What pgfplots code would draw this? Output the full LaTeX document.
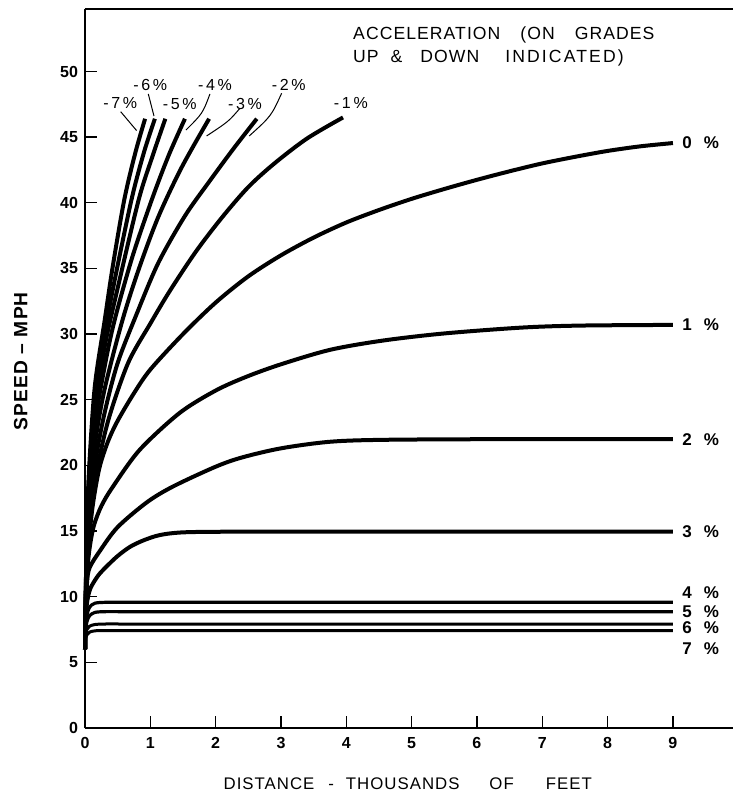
\documentclass[border=0pt]{standalone}
\usepackage{fontspec}
\setmainfont{Liberation Sans}
\newfontfamily\spaced[LetterSpace=6]{Liberation Sans}
\newfontfamily\spacedw[LetterSpace=12]{Liberation Sans}
\usepackage{pgfplots}
\pgfplotsset{compat=1.18}
\begin{document}
\begin{tikzpicture}
\begin{axis}[
  scale only axis,
  width=324pt, height=359.5pt,
  xmin=0, xmax=9.92, ymin=0, ymax=54.76,
  axis x line*=box, axis y line*=left,
  xtick={0,1,...,9}, ytick={0,5,...,50},
  xtick pos=bottom, ytick pos=left,
  tick align=inside,
  major tick length=6pt,
  axis line style={line width=0.6pt},
  every tick/.style={black, line width=0.7pt},
  /pgf/number format/assume math mode=true,
  ticklabel style={font=\fontsize{8}{9}\selectfont\bfseries},
  xticklabel style={yshift=-1pt},
  xlabel={\spaced\fontsize{8.4}{10}\selectfont DISTANCE\hspace{7pt}-\hspace{6pt}THOUSANDS\hspace{15pt}OF\hspace{16pt}FEET},
  ylabel={\spaced\fontsize{9.6}{11}\selectfont\bfseries SPEED – MPH},
  every axis x label/.style={at={(axis description cs:0.498,-0.078)},anchor=center},
  every axis y label/.style={at={(axis description cs:-0.099,0.51)},rotate=90,anchor=center},
  clip=false,
]
% downgrades
\addplot[black, line width=2pt, smooth] coordinates {(0,6) (0.01,10) (0.03,15) (0.06,19.5) (0.15,26) (0.3,31) (0.42,35) (0.6,40.2) (0.77,43.8) (0.92,46.4)};
\addplot[black, line width=2pt, smooth] coordinates {(0,6) (0.01,10) (0.03,14.5) (0.06,18.8) (0.15,25) (0.3,30) (0.45,34) (0.71,40.2) (0.9,43.8) (1.07,46.4)};
\addplot[black, line width=2pt, smooth] coordinates {(0,6) (0.01,9.8) (0.03,14) (0.06,18) (0.15,24) (0.3,29) (0.5,33.5) (0.82,40.2) (1.03,43.5) (1.23,46.4)};
\addplot[black, line width=2pt, smooth] coordinates {(0,6) (0.01,9.6) (0.03,13.5) (0.06,17) (0.15,23) (0.3,27.5) (0.45,31) (0.72,35.8) (1.02,40.2) (1.28,43.6) (1.53,46.4)};
\addplot[black, line width=2pt, smooth] coordinates {(0,6) (0.01,9.4) (0.03,13) (0.06,16.3) (0.15,21.5) (0.3,25.8) (0.57,31) (0.82,34.9) (1.12,38.9) (1.48,42.7) (1.9,46.4)};
\addplot[black, line width=2pt, smooth] coordinates {(0,6) (0.01,9.2) (0.03,12.5) (0.06,15.5) (0.15,20) (0.3,24) (0.5,27.8) (0.78,31.4) (1.12,35.4) (1.53,39.0) (1.9,41.6) (2.27,44.1) (2.63,46.4)};
\addplot[black, line width=2pt, smooth] coordinates {(0,6) (0.01,9) (0.03,12) (0.06,14.8) (0.18,19.5) (0.36,23.5) (0.66,27.8) (1.0,30.8) (1.3,33.3) (1.7,36.3) (2.1,38.9) (2.5,41.2) (2.9,43.0) (3.4,44.9) (3.95,46.5)};
% level
\addplot[black, line width=2pt, smooth] coordinates {(0,6) (0.01,8.8) (0.03,11.6) (0.06,14.2) (0.12,17) (0.22,19.8) (0.35,21.8) (0.5,23.4) (0.75,25.5) (1,27.3) (1.5,30.0) (2,32.4) (2.5,34.4) (3,36.0) (3.5,37.35) (4,38.5) (4.5,39.45) (5,40.3) (5.5,41.05) (6,41.75) (6.5,42.4) (7,43.0) (7.5,43.5) (8,43.95) (8.5,44.3) (9,44.55)};
% upgrades
\addplot[black, line width=2pt, smooth] coordinates {(0,6) (0.01,8.6) (0.03,11.2) (0.06,13.3) (0.13,15.3) (0.25,16.9) (0.43,18.4) (0.84,21.2) (1.45,24.0) (2,25.7) (2.47,26.75) (3,27.7) (3.75,28.8) (4.55,29.5) (5.5,30.05) (6.7,30.5) (7.6,30.65) (9,30.7)};
\addplot[black, line width=2pt, smooth] coordinates {(0,6) (0.01,8.3) (0.03,11) (0.07,12.2) (0.23,13.5) (0.5,15.3) (0.95,17.2) (1.35,18.4) (2,19.9) (2.4,20.6) (3,21.3) (3.75,21.8) (4.6,21.95) (6.5,22) (9,22)};
\addplot[black, line width=2pt, smooth] coordinates {(0,6) (0.01,8) (0.03,9.5) (0.08,10.6) (0.2,11.6) (0.33,12.3) (0.5,13.1) (0.69,13.8) (0.9,14.3) (1.15,14.7) (1.5,14.9) (2.2,14.95) (3.5,14.95) (5.5,14.95) (9,14.95)};
\addplot[black, line width=1.6pt, smooth] coordinates {(0,6) (0.01,7.6) (0.03,8.6) (0.07,9.2) (0.15,9.5) (0.3,9.57) (0.6,9.57) (1.2,9.57) (2.4,9.57) (4.8,9.57) (9,9.57)};
\addplot[black, line width=1.6pt, smooth] coordinates {(0,6) (0.01,7.4) (0.03,8.1) (0.07,8.55) (0.15,8.8) (0.3,8.86) (0.6,8.86) (1.2,8.86) (2.4,8.86) (4.8,8.86) (9,8.86)};
\addplot[black, line width=1.5pt, smooth] coordinates {(0,6) (0.01,7.1) (0.03,7.5) (0.07,7.75) (0.15,7.88) (0.3,7.92) (0.6,7.92) (1.2,7.92) (2.4,7.92) (4.8,7.92) (9,7.92)};
\addplot[black, line width=1.5pt, smooth] coordinates {(0,6) (0.01,6.8) (0.03,7.1) (0.07,7.3) (0.15,7.4) (0.3,7.42) (0.6,7.42) (1.2,7.42) (2.4,7.42) (4.8,7.42) (9,7.42)};
% title block
\node[anchor=base west, inner sep=0pt, font=\spaced\fontsize{8.8}{10}\selectfont] at (axis cs:4.1,52.4) {ACCELERATION\hspace{10pt}(ON\hspace{10pt}GRADES};
\node[anchor=base west, inner sep=0pt, font=\spaced\fontsize{8.8}{10}\selectfont] at (axis cs:4.1,50.65) {UP\hspace{6pt}\&\hspace{9pt}DOWN\hspace{13pt}{\spacedw INDICATED)}};
% downgrade labels
\begin{scope}[every node/.style={font=\fontsize{8}{9}\selectfont, inner sep=0pt}]
\node at (axis cs:0.54,47.6) {-\,7\,\%};
\node at (axis cs:1.0,49.0) {-\,6\,\%};
\node at (axis cs:1.45,47.5) {-\,5\,\%};
\node at (axis cs:1.99,49.0) {-\,4\,\%};
\node at (axis cs:2.45,47.5) {-\,3\,\%};
\node at (axis cs:3.12,49.0) {-\,2\,\%};
\node at (axis cs:4.07,47.6) {-\,1\,\%};
\end{scope}
\draw[line width=0.5pt] (axis cs:0.546,46.94) -- (axis cs:0.79,45.5);
\draw[line width=0.5pt] (axis cs:0.969,48.29) -- (axis cs:1.056,46.61);
\draw[line width=0.5pt] (axis cs:1.913,48.29) .. controls (axis cs:1.8,46.8) .. (axis cs:1.545,45.54);
\draw[line width=0.5pt] (axis cs:2.372,47.2) .. controls (axis cs:2.2,46.2) .. (axis cs:1.862,45.09);
\draw[line width=0.5pt] (axis cs:3.01,48.34) .. controls (axis cs:2.85,46.6) .. (axis cs:2.514,45.09);
% upgrade labels
\begin{scope}[every node/.style={font=\fontsize{8.5}{10}\selectfont\bfseries, inner sep=0pt, anchor=west}]
\node at (axis cs:9.14,44.6) {0\hspace{6pt}\%};
\node at (axis cs:9.14,30.7) {1\hspace{6pt}\%};
\node at (axis cs:9.14,22.0) {2\hspace{6pt}\%};
\node at (axis cs:9.14,14.95) {3\hspace{6pt}\%};
\node at (axis cs:9.14,10.3) {4\hspace{6pt}\%};
\node at (axis cs:9.14,8.86) {5\hspace{6pt}\%};
\node at (axis cs:9.14,7.67) {6\hspace{6pt}\%};
\node at (axis cs:9.14,6.07) {7\hspace{6pt}\%};
\end{scope}
\end{axis}
\pgfresetboundingbox
\path (-42.5pt,-34.5pt) rectangle (324pt,364pt);
\end{tikzpicture}
\end{document}
